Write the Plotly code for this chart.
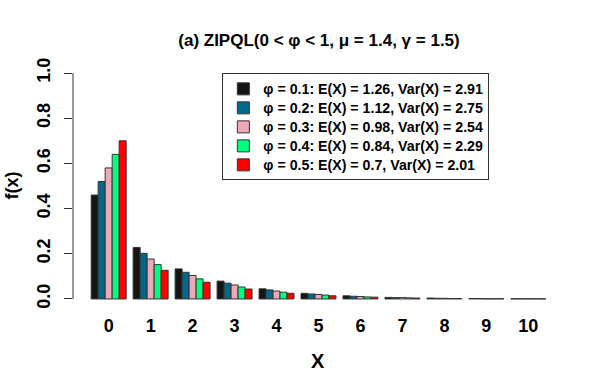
import plotly.graph_objects as go

x_vals = [0, 1, 2, 3, 4, 5, 6, 7, 8, 9, 10]
tick_labels = ["0", "1", "2", "3", "4", "5", "6", "7", "8", "9", "10"]
y_ticks = [0, 0.2, 0.4, 0.6, 0.8, 1.0]
y_tick_labels = ["0.0", "0.2", "0.4", "0.6", "0.8", "1.0"]

f_phi01 = [0.46, 0.228, 0.133, 0.079, 0.045, 0.025, 0.014, 0.007, 0.004, 0.002, 0.001]
f_phi02 = [0.52, 0.202, 0.118, 0.070, 0.040, 0.022, 0.012, 0.006, 0.003, 0.002, 0.001]
f_phi03 = [0.58, 0.177, 0.104, 0.062, 0.035, 0.020, 0.011, 0.006, 0.003, 0.001, 0.001]
f_phi04 = [0.64, 0.152, 0.089, 0.053, 0.030, 0.017, 0.009, 0.005, 0.002, 0.001, 0.001]
f_phi05 = [0.70, 0.127, 0.074, 0.044, 0.025, 0.014, 0.008, 0.004, 0.002, 0.001, 0.0005]

series_names = [
    "φ = 0.1: E(X) = 1.26, Var(X) = 2.91",
    "φ = 0.2: E(X) = 1.12, Var(X) = 2.75",
    "φ = 0.3: E(X) = 0.98, Var(X) = 2.54",
    "φ = 0.4: E(X) = 0.84, Var(X) = 2.29",
    "φ = 0.5: E(X) = 0.7, Var(X) = 2.01",
]
series_values = [f_phi01, f_phi02, f_phi03, f_phi04, f_phi05]
colors = ["#151515", "#00688B", "#EEA9B8", "#00FF7F", "#FF0000"]

FONT = "Liberation Sans"
PL, PR, PT, PB = 72.5, 564.0, 63.6, 308.4  # plot area in pixels

fig = go.Figure()
for name, vals, col in zip(series_names, series_values, colors):
    fig.add_trace(go.Bar(
        x=x_vals, y=vals,
        name=f'<b><span style="font-size:14.2px">{name}</span></b>',
        marker=dict(color=col, line=dict(color="#333333", width=1)),
    ))

def px_to_paper(px_x, px_y):
    return (px_x - PL) / (PR - PL), (PB - px_y) / (PB - PT)

ax_x, ax_y = px_to_paper(318, 362)
ay_x, ay_y = px_to_paper(11, 186)
lg_x, lg_y = px_to_paper(222, 73)

fig.update_layout(
    width=600, height=390,
    margin=dict(l=PL, r=600 - PR, t=PT, b=390 - PB, autoexpand=False),
    paper_bgcolor="white", plot_bgcolor="white",
    barmode="group", bargap=1/6, bargroupgap=0,
    font=dict(family=FONT, color="black"),
    title=dict(
        text="<b>(a) ZIPQL(0 < φ < 1, μ = 1.4, γ = 1.5)</b>",
        x=319 / 600, xanchor="center",
        y=1 - 40 / 390, yanchor="middle",
        font=dict(size=17, family=FONT),
    ),
    xaxis=dict(
        range=[-0.85, 10.85], automargin=False,
        tickmode="array", tickvals=x_vals, ticktext=[f"<b>{t}</b>" for t in tick_labels],
        showline=False, showgrid=False, zeroline=False, ticks="",
        tickfont=dict(size=18, family=FONT),
        ticklabelstandoff=5,
    ),
    yaxis=dict(
        range=[-0.04, 1.04], automargin=False,
        tickmode="array", tickvals=y_ticks,
        ticktext=[f"<b>{t}</b>" for t in y_tick_labels],
        tickangle=-90,
        showline=False, showgrid=False, zeroline=False,
        ticks="outside", ticklen=8, tickwidth=1, tickcolor="#333333",
        tickfont=dict(size=18, family=FONT),
        ticklabelstandoff=7,
    ),
    legend=dict(
        x=lg_x, y=lg_y,
        xanchor="left", yanchor="top",
        bordercolor="#333333", borderwidth=1,
        bgcolor="white",
        font=dict(size=12, family=FONT),
        tracegroupgap=0,
    ),
    showlegend=True,
    annotations=[
        dict(text="<b>X</b>", x=ax_x, y=ax_y, xref="paper", yref="paper",
             xanchor="center", yanchor="middle",
             showarrow=False, font=dict(size=20, family=FONT)),
        dict(text="<b>f(x)</b>", x=ay_x, y=ay_y, xref="paper", yref="paper",
             xanchor="center", yanchor="middle",
             textangle=-90, showarrow=False, font=dict(size=18, family=FONT)),
    ],
)

fig.add_shape(
    type="line", xref="paper", yref="y",
    x0=0, x1=0, y0=0, y1=1,
    line=dict(color="#333333", width=1),
)

fig.write_html(
    "out.html",
    config={"displayModeBar": False},
    post_script="document.body.style.margin='0';document.body.style.overflow='hidden';",
)
